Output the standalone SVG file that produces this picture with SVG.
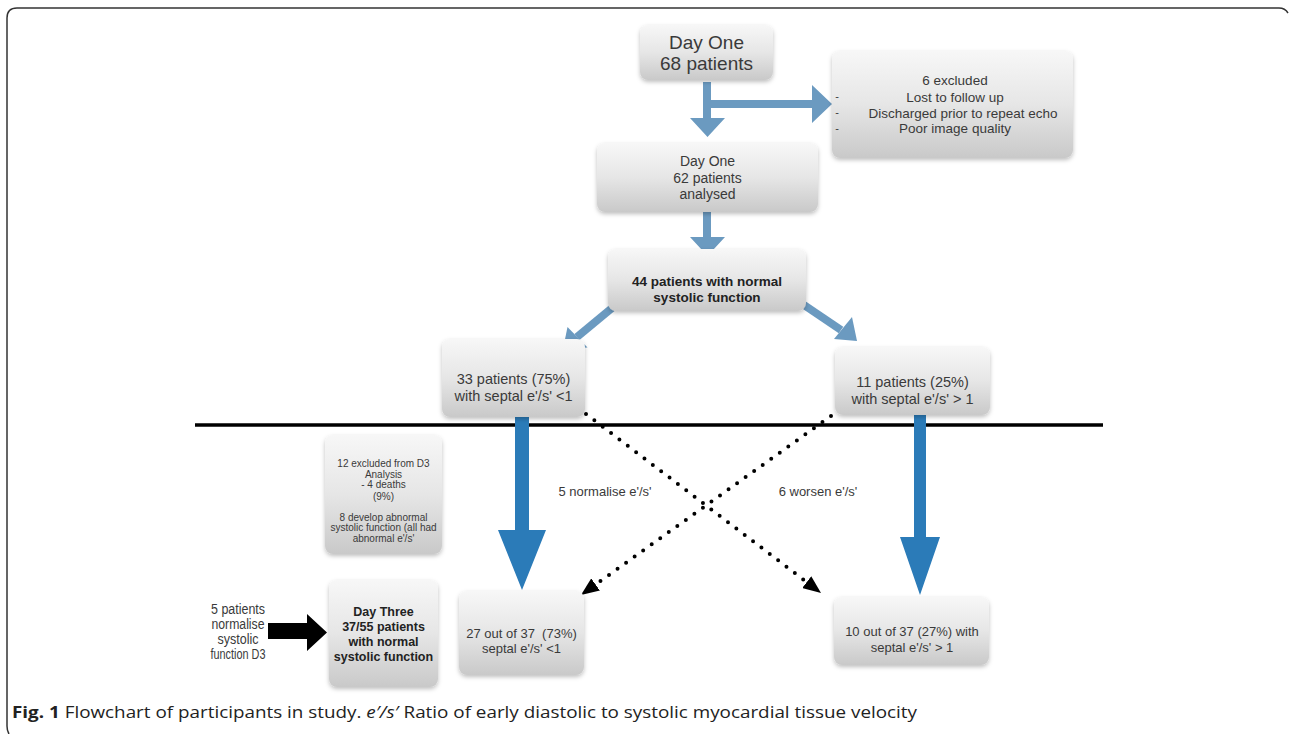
<svg xmlns="http://www.w3.org/2000/svg" width="1289" height="734" viewBox="0 0 1289 734">
<defs>
<linearGradient id="boxg" x1="0" y1="0" x2="0" y2="1">
<stop offset="0" stop-color="#f7f7f7"/>
<stop offset="0.5" stop-color="#e6e6e6"/>
<stop offset="1" stop-color="#c9c9c9"/>
</linearGradient>
<filter id="sh" x="-10%" y="-10%" width="120%" height="130%">
<feDropShadow dx="0" dy="2" stdDeviation="2" flood-color="#000" flood-opacity="0.25"/>
</filter>
<marker id="tri" viewBox="0 0 18 15" refX="0" refY="7.5" markerWidth="18" markerHeight="15" markerUnits="userSpaceOnUse" orient="auto">
<path d="M0,0 L18,7.5 L0,15 z" fill="#000"/>
</marker>
<style>
.box{fill:url(#boxg);filter:url(#sh)}
.t{font-family:"Liberation Sans",Arial,sans-serif;fill:#3a3a3a;text-anchor:middle;white-space:pre}
.b{font-weight:bold;fill:#222}
.lb{fill:#6b9ac0}
.ls{stroke:#6b9ac0;stroke-width:8;fill:none}
.db{fill:#2b7bb8}
.dot{stroke:#000;stroke-width:4;stroke-linecap:round;stroke-dasharray:0 10.5;fill:none}
</style>
</defs>
<rect width="1289" height="734" fill="#fff"/>
<path d="M9,734 Q7,731 7,726 L7,18 Q7,8 17,8 L1279,8 Q1285,8 1288,13" fill="none" stroke="#333" stroke-width="1.5"/>

<g id="connectors">
<line x1="195" y1="425" x2="1103" y2="425" stroke="#000" stroke-width="3.5"/>
<polygon class="lb" points="703,82 711,82 711,100 812,100 812,85 832,104 812,123 812,108 711,108 711,118 725,118 707.5,137 690,118 703,118"/>
<polygon class="lb" points="703,212 711,212 711,237 725,237 707.5,256 690,237 703,237"/>
<line class="ls" x1="612" y1="308" x2="577" y2="337"/>
<polygon class="lb" points="563,349 587.5,347.5 567.5,327"/>
<line class="ls" x1="804" y1="305" x2="841" y2="330"/>
<polygon class="lb" points="857,341 834,339 852,317"/>
<polygon class="db" points="515,417 529,417 529,530 546,530 522,590 498,530 515,530"/>
<polygon class="db" points="914,415 926,415 926,537 940,537 920,595 900,537 914,537"/>
<line class="dot" x1="586" y1="414" x2="806.7" y2="582.1" marker-end="url(#tri)"/>
<line class="dot" x1="831" y1="416" x2="595.6" y2="584.5" marker-end="url(#tri)"/>
<polygon fill="#000" points="268,623 307,623 307,614 327,632.5 307,651 307,639 268,639"/>
</g>

<g id="n68"><rect class="box" x="640" y="25" width="133" height="55" rx="8"/>
<text class="t" font-size="19" x="706.5" y="48.5">Day One</text>
<text class="t" font-size="19" x="706.5" y="69.5">68 patients</text></g>

<g id="nexcl"><rect class="box" x="832" y="51" width="241" height="107" rx="8"/>
<text class="t" font-size="13.5" x="955" y="85">6 excluded</text>
<text class="t" font-size="13.5" x="955" y="102">Lost to follow up</text>
<text class="t" font-size="13.5" x="963" y="117.5">Discharged prior to repeat echo</text>
<text class="t" font-size="13.5" x="955" y="133">Poor image quality</text>
<text class="t" font-size="11" x="837" y="100">-</text>
<text class="t" font-size="11" x="837" y="116">-</text>
<text class="t" font-size="11" x="837" y="132">-</text></g>

<g id="n62"><rect class="box" x="597" y="143" width="221" height="69" rx="8"/>
<text class="t" font-size="14" x="707.5" y="166">Day One</text>
<text class="t" font-size="14" x="707.5" y="182.5">62 patients</text>
<text class="t" font-size="14" x="707.5" y="199">analysed</text></g>

<g id="n44"><rect class="box" x="608" y="249" width="198" height="62" rx="8"/>
<text class="t b" font-size="13.5" x="707" y="285.5">44 patients with normal</text>
<text class="t b" font-size="13.5" x="707" y="301.5">systolic function</text></g>

<g id="n33"><rect class="box" x="442" y="339" width="143" height="78" rx="8"/>
<text class="t" font-size="14.5" x="513.5" y="384">33 patients (75%)</text>
<text class="t" font-size="14.5" x="513.5" y="401">with septal e'/s' &lt;1</text></g>

<g id="n11"><rect class="box" x="835" y="347" width="155" height="68" rx="8"/>
<text class="t" font-size="14.5" x="912.5" y="387">11 patients (25%)</text>
<text class="t" font-size="14.5" x="912.5" y="404">with septal e'/s' &gt; 1</text></g>

<g id="n12"><rect class="box" x="325" y="435" width="117" height="119" rx="8"/>
<g class="t" font-size="10" fill="#555">
<text x="383.5" y="466.5">12 excluded from D3</text>
<text x="383.5" y="477.5">Analysis</text>
<text x="383.5" y="488">- 4 deaths</text>
<text x="383.5" y="499.5">(9%)</text>
<text x="383.5" y="520.5">8 develop abnormal</text>
<text x="383.5" y="531">systolic function (all had</text>
<text x="383.5" y="541.5">abnormal e'/s'</text></g></g>

<g id="nd3"><rect class="box" x="329" y="580" width="109" height="107" rx="8"/>
<text class="t b" font-size="12.5" x="383.5" y="615.5">Day Three</text>
<text class="t b" font-size="12.5" x="383.5" y="631">37/55 patients</text>
<text class="t b" font-size="12.5" x="383.5" y="646">with normal</text>
<text class="t b" font-size="12.5" x="383.5" y="661">systolic function</text></g>

<g id="n27"><rect class="box" x="459" y="591" width="125" height="84" rx="8"/>
<text class="t" font-size="13" x="521.5" y="637.5">27 out of 37  (73%)</text>
<text class="t" font-size="13" x="521.5" y="653">septal e'/s' &lt;1</text></g>

<g id="n10"><rect class="box" x="834" y="597" width="155" height="68" rx="8"/>
<text class="t" font-size="13" x="912" y="635.5">10 out of 37 (27%) with</text>
<text class="t" font-size="13" x="912" y="651.5">septal e'/s' &gt; 1</text></g>

<g id="labels">
<text class="t" font-size="13" x="605" y="496">5 normalise e'/s'</text>
<text class="t" font-size="13" x="818" y="496">6 worsen e'/s'</text>
<g class="t" font-size="14" fill="#555">
<text x="238" y="614" textLength="54" lengthAdjust="spacingAndGlyphs">5 patients</text>
<text x="238" y="628.5" textLength="53" lengthAdjust="spacingAndGlyphs">normalise</text>
<text x="238" y="643.5" textLength="41" lengthAdjust="spacingAndGlyphs">systolic</text>
<text x="238" y="658.5" textLength="55" lengthAdjust="spacingAndGlyphs">function D3</text></g>
</g>

<text x="12" y="718" font-family="'Open Sans','Liberation Sans',sans-serif" font-size="16.5" fill="#222" textLength="905" lengthAdjust="spacingAndGlyphs"><tspan font-weight="bold">Fig. 1</tspan> Flowchart of participants in study. <tspan font-style="italic">e′/s′</tspan> Ratio of early diastolic to systolic myocardial tissue velocity</text>
</svg>
